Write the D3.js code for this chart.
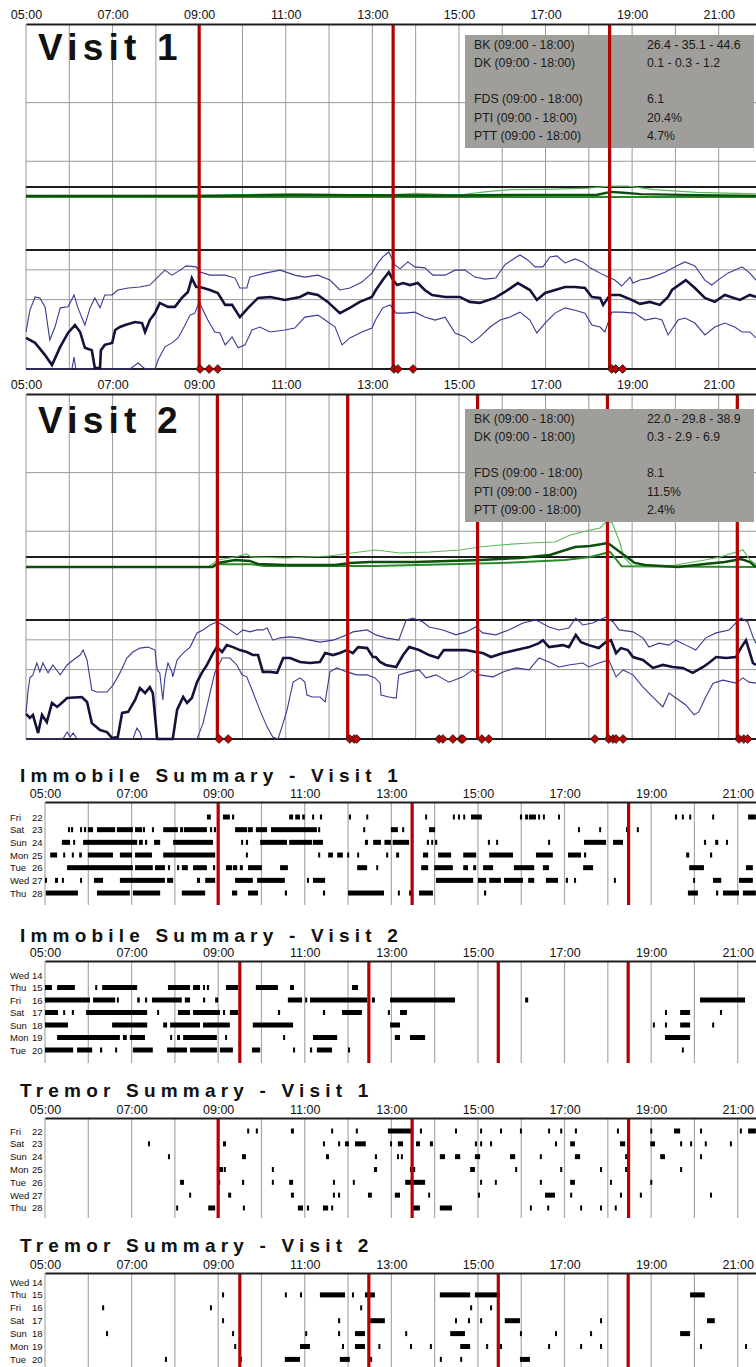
<!DOCTYPE html>
<html><head><meta charset="utf-8">
<script src="https://cdn.jsdelivr.net/npm/d3@7"></script>
<style>
html,body{margin:0;padding:0;background:#fff;}
svg{display:block;font-family:"Liberation Sans",Arial,Helvetica,sans-serif;}
</style></head><body>
<svg id="chart" width="756" height="1367"></svg>
<script>
// ---------- shared time axis ----------
const hourTicks = [5, 7, 9, 11, 13, 15, 17, 19, 21];
const hourGrid = d3.range(5, 22);

// ---------- summary statistics ----------
const statLabels = ["BK (09:00 - 18:00)", "DK (09:00 - 18:00)", "", "FDS (09:00 - 18:00)", "PTI (09:00 - 18:00)", "PTT (09:00 - 18:00)"];
const statsV1 = ["26.4 - 35.1 - 44.6", "0.1 - 0.3 - 1.2", "", "6.1", "20.4%", "4.7%"];
const statsV2 = ["22.0 - 29.8 - 38.9", "0.3 - 2.9 - 6.9", "", "8.1", "11.5%", "2.4%"];

// ---------- reference levels ----------
const dkLevels = [7, 25, 66];      // DK threshold (black) and guides (grey)
const bkLevels = [20, 26, 35];     // BK threshold (black) and guides (grey)

// ---------- dose times ----------
const dosesV1 = [9.0, 13.48, 18.48];
const dosesV2 = [9.42, 12.43, 15.43, 18.43, 21.43];
const dosesV2Summary = [9.5, 12.48, 15.47, 18.47];
const remindersV1 = [9.02, 9.23, 9.43, 13.5, 13.59, 13.94, 18.53, 18.62, 18.78];
const remindersV2 = [9.46, 9.67, 12.48, 12.58, 12.64, 14.54, 14.63, 14.86, 15.05, 15.09, 15.53, 15.69, 18.14, 18.46, 18.56, 18.63, 18.79, 21.47, 21.58, 21.67];

// ---------- Visit 1 bradykinesia (median, 25th, 75th) ----------
const bkV1Median = [[5.00,46.6],[5.21,48.1],[5.44,51.8],[5.60,54.8],[5.79,49.3],[5.97,45.1],[6.13,42.7],[6.25,44.8],[6.36,49.6],[6.52,50.3],[6.59,55.7],[6.71,55.7],[6.73,50.3],[6.82,48.7],[6.99,48.1],[7.06,44.2],[7.17,43.3],[7.29,42.7],[7.52,41.8],[7.68,42.1],[7.75,44.8],[7.86,41.2],[7.98,39.1],[8.09,36.0],[8.28,37.2],[8.44,37.2],[8.60,34.5],[8.74,32.7],[8.83,28.5],[8.93,31.2],[9.02,31.2],[9.25,32.1],[9.43,33.0],[9.60,36.6],[9.76,36.6],[9.94,40.3],[10.13,37.5],[10.36,34.5],[10.64,34.2],[10.98,35.1],[11.33,34.2],[11.51,33.0],[11.74,33.6],[11.97,35.7],[12.25,39.1],[12.48,37.5],[12.71,35.7],[12.99,34.2],[13.08,32.1],[13.24,29.1],[13.38,26.7],[13.48,29.1],[13.57,30.6],[13.71,30.0],[13.87,30.6],[14.05,30.0],[14.21,32.1],[14.38,33.6],[14.68,34.2],[15.02,34.2],[15.25,35.7],[15.48,36.0],[15.83,34.5],[16.06,32.7],[16.36,30.0],[16.64,32.1],[16.80,35.1],[16.99,33.0],[17.22,32.1],[17.45,31.2],[17.68,31.2],[17.91,31.5],[18.07,34.2],[18.26,34.5],[18.33,36.6],[18.49,33.6],[18.72,33.6],[18.99,35.1],[19.18,36.3],[19.41,35.7],[19.64,36.6],[19.83,34.2],[19.92,32.1],[20.24,29.1],[20.45,31.5],[20.68,34.5],[20.91,35.7],[21.14,33.6],[21.49,35.1],[21.72,33.6],[21.86,34.2]];
const bkV1Low = [[5.00,44.8],[5.09,38.2],[5.21,34.2],[5.32,34.5],[5.44,37.2],[5.55,47.2],[5.67,43.3],[5.79,37.5],[5.97,37.2],[6.11,33.6],[6.20,37.5],[6.36,42.7],[6.48,37.5],[6.59,34.5],[6.71,37.5],[6.82,33.6],[6.99,33.6],[7.12,32.1],[7.36,31.5],[7.63,31.2],[7.86,30.6],[8.09,27.6],[8.21,26.1],[8.37,27.6],[8.56,26.1],[8.70,24.8],[8.93,25.1],[9.02,26.7],[9.25,27.6],[9.60,27.6],[9.83,28.5],[9.94,31.5],[10.10,31.5],[10.17,28.2],[10.52,27.0],[10.87,26.1],[11.21,27.6],[11.44,28.2],[11.74,27.6],[12.02,29.1],[12.25,32.1],[12.48,31.5],[12.76,29.7],[12.99,27.0],[13.13,23.9],[13.24,22.1],[13.38,20.6],[13.52,24.5],[13.64,25.7],[13.82,23.6],[13.98,25.1],[14.21,25.4],[14.40,27.6],[14.68,27.6],[14.91,26.1],[15.14,26.1],[15.37,28.2],[15.60,28.8],[15.85,28.5],[16.06,24.5],[16.29,22.4],[16.41,21.5],[16.59,23.0],[16.76,25.1],[16.94,25.1],[17.10,22.1],[17.26,21.8],[17.45,23.9],[17.68,22.7],[17.86,23.6],[18.03,25.4],[18.26,27.0],[18.44,28.2],[18.60,29.1],[18.76,30.9],[18.95,28.2],[19.02,30.0],[19.18,29.1],[19.41,28.5],[19.76,26.7],[19.99,25.1],[20.22,23.6],[20.45,24.8],[20.68,29.1],[20.84,30.6],[20.98,29.1],[21.21,27.0],[21.54,25.1],[21.72,27.0],[21.86,29.1]];
const bkV1High = [[5.00,56.0],[6.06,56.0],[6.11,52.4],[6.15,56.0],[7.40,56.0],[7.59,54.2],[7.75,56.0],[7.98,56.0],[8.05,53.3],[8.21,49.3],[8.37,48.1],[8.51,46.6],[8.65,43.3],[8.79,39.7],[8.90,39.1],[9.00,35.7],[9.09,38.2],[9.20,41.2],[9.36,44.8],[9.48,45.1],[9.60,48.7],[9.76,46.3],[9.90,49.6],[10.06,48.7],[10.22,44.2],[10.40,43.3],[10.64,44.8],[10.98,44.2],[11.21,43.6],[11.44,40.3],[11.74,39.7],[11.91,41.2],[12.14,43.3],[12.30,48.7],[12.48,46.6],[12.76,44.8],[12.99,43.6],[13.08,41.0],[13.24,37.5],[13.41,36.6],[13.55,39.1],[13.75,39.1],[13.98,38.8],[14.21,40.3],[14.45,41.2],[14.68,40.3],[14.91,45.1],[15.14,46.3],[15.30,48.1],[15.48,46.3],[15.72,43.3],[15.95,41.2],[16.18,40.3],[16.41,38.8],[16.64,41.2],[16.80,45.1],[16.99,42.1],[17.22,39.1],[17.45,37.5],[17.68,38.2],[17.91,39.1],[18.07,42.7],[18.26,43.3],[18.37,44.8],[18.53,38.8],[18.76,38.8],[19.06,39.1],[19.30,41.2],[19.53,40.6],[19.69,41.2],[19.83,45.7],[20.06,41.2],[20.22,40.6],[20.45,42.1],[20.68,45.7],[20.91,43.3],[21.14,42.1],[21.37,43.3],[21.54,44.8],[21.72,44.8],[21.86,46.6]];

// ---------- Visit 1 dyskinesia ----------
const dkV1Median = [[5,0.8],[9,0.8],[10.5,1.2],[11.5,1.6],[12.5,1.2],[15,1.0],[16.5,1.5],[18.2,1.6],[18.5,3.6],[18.8,3.0],[19.2,2.0],[20.5,1.3],[21.86,0.8]];
const dkV1High = [[5,1.0],[9,1.2],[11,2.2],[12,1.4],[13.5,1.6],[14,2.6],[15,1.4],[15.6,3.6],[16.2,5.2],[17,5.4],[18,6.2],[18.5,7.6],[18.9,7.6],[19.5,5.2],[20.5,3.2],[21.86,2.2]];
const dkV1Low = [[5,0],[21.86,0]];

// ---------- Visit 2 bradykinesia ----------
const bkV2Median = [[5.00,48.4],[5.09,49.6],[5.16,48.7],[5.28,54.2],[5.37,48.7],[5.48,50.9],[5.60,45.1],[5.72,46.3],[5.85,44.8],[5.95,43.6],[6.29,43.3],[6.41,44.8],[6.52,51.2],[6.71,53.3],[6.87,53.9],[6.99,55.7],[7.12,55.4],[7.22,48.1],[7.36,47.8],[7.52,44.2],[7.63,40.6],[7.75,42.1],[7.86,40.3],[7.93,42.1],[8.03,56.0],[8.39,56.0],[8.49,47.2],[8.63,43.3],[8.72,45.1],[8.83,43.6],[8.95,38.8],[9.06,36.0],[9.18,33.6],[9.32,30.0],[9.41,28.2],[9.53,29.7],[9.64,27.6],[9.78,28.2],[9.94,29.1],[10.10,29.7],[10.24,30.6],[10.36,30.6],[10.47,35.7],[10.64,35.7],[10.80,36.0],[10.94,31.5],[11.10,31.5],[11.33,32.7],[11.56,33.0],[11.79,32.7],[11.91,30.0],[12.09,30.6],[12.25,30.0],[12.41,29.1],[12.55,30.0],[12.67,28.2],[12.88,28.5],[13.01,31.2],[13.08,31.2],[13.18,32.7],[13.31,33.6],[13.55,34.2],[13.71,30.6],[13.85,28.2],[14.08,29.1],[14.31,30.6],[14.52,31.5],[14.65,29.1],[14.93,29.1],[15.16,29.1],[15.39,29.7],[15.55,30.0],[15.74,31.2],[16.02,30.0],[16.32,29.1],[16.62,28.2],[16.85,27.0],[16.94,26.1],[17.08,28.2],[17.40,27.6],[17.54,28.2],[17.70,24.5],[17.82,26.7],[18.00,27.6],[18.23,28.5],[18.39,26.7],[18.51,26.1],[18.63,30.0],[18.74,28.5],[18.90,29.1],[19.02,31.2],[19.25,32.1],[19.48,34.5],[19.71,33.6],[19.94,34.2],[20.17,34.5],[20.40,36.0],[20.64,34.2],[20.77,33.0],[20.94,31.2],[21.17,31.5],[21.40,31.2],[21.51,28.5],[21.63,26.1],[21.70,29.1],[21.79,33.0],[21.86,33.6]];
const bkV2Low = [[5.00,48.1],[5.05,41.2],[5.09,37.5],[5.16,36.6],[5.25,33.0],[5.32,35.7],[5.39,33.0],[5.51,36.0],[5.62,33.6],[5.79,36.6],[5.95,33.6],[6.09,32.1],[6.25,30.6],[6.32,29.1],[6.41,32.1],[6.52,41.2],[6.64,41.8],[6.87,41.8],[7.01,39.7],[7.17,36.0],[7.33,31.5],[7.47,29.7],[7.63,28.5],[7.82,28.2],[7.98,29.1],[8.03,35.1],[8.09,36.0],[8.16,44.2],[8.21,37.2],[8.28,33.0],[8.37,35.7],[8.39,37.2],[8.49,32.1],[8.63,30.0],[8.79,28.2],[8.95,23.9],[9.09,23.0],[9.25,21.5],[9.41,20.6],[9.55,21.5],[9.71,23.0],[9.87,24.5],[10.01,23.0],[10.17,23.6],[10.33,23.0],[10.47,23.0],[10.57,22.4],[10.70,26.1],[10.87,25.4],[11.10,25.1],[11.33,25.4],[11.56,26.1],[11.79,26.7],[12.09,26.1],[12.41,24.5],[12.55,23.6],[12.88,23.0],[13.08,24.5],[13.31,25.4],[13.61,26.1],[13.78,20.0],[13.94,19.4],[14.17,20.6],[14.31,22.1],[14.63,23.0],[14.93,24.5],[15.16,23.6],[15.39,22.1],[15.55,23.9],[15.85,24.5],[16.15,23.0],[16.48,20.9],[16.78,20.0],[17.08,22.1],[17.31,23.0],[17.54,22.4],[17.70,19.4],[17.86,21.5],[18.09,20.9],[18.39,19.1],[18.56,20.6],[18.70,23.0],[19.02,23.6],[19.25,25.4],[19.39,28.2],[19.62,27.0],[19.85,27.6],[20.01,26.1],[20.24,27.6],[20.47,29.1],[20.70,25.4],[20.94,23.9],[21.24,23.0],[21.40,20.9],[21.51,19.4],[21.67,20.6],[21.79,25.1],[21.86,27.0]];
const bkV2High = [[5.00,56.0],[5.85,56.0],[5.95,53.9],[6.02,55.4],[6.09,54.2],[6.18,56.0],[7.47,56.0],[7.56,52.7],[7.63,53.9],[7.68,56.0],[8.95,56.0],[9.09,51.2],[9.25,42.1],[9.36,36.0],[9.43,34.2],[9.53,31.5],[9.71,31.5],[9.87,33.6],[9.99,36.6],[10.10,37.2],[10.24,41.8],[10.40,47.2],[10.57,52.4],[10.70,55.4],[10.82,56.0],[10.91,52.4],[11.03,47.2],[11.17,38.8],[11.33,37.5],[11.44,38.8],[11.49,42.7],[11.61,43.3],[11.79,43.3],[11.91,44.8],[12.02,35.7],[12.18,34.5],[12.41,35.7],[12.64,36.6],[12.88,36.6],[13.06,37.5],[13.18,39.1],[13.20,42.7],[13.38,43.3],[13.55,43.6],[13.61,36.6],[13.85,35.7],[14.08,35.1],[14.24,37.5],[14.47,36.6],[14.77,38.8],[15.09,37.2],[15.32,35.1],[15.46,36.6],[15.79,37.2],[16.02,35.7],[16.32,34.5],[16.62,35.1],[16.85,31.5],[17.08,32.7],[17.31,34.2],[17.54,33.6],[17.86,33.0],[18.00,34.2],[18.23,33.0],[18.46,32.1],[18.63,37.2],[18.79,35.1],[19.02,36.6],[19.25,40.3],[19.48,43.3],[19.71,46.3],[19.85,42.1],[20.01,43.6],[20.24,45.7],[20.43,48.7],[20.54,47.8],[20.70,43.3],[20.87,39.1],[21.10,38.2],[21.40,39.1],[21.56,37.5],[21.70,38.8],[21.86,39.1]];

// ---------- Visit 2 dyskinesia ----------
const dkV2Median = [[5,0],[9.3,0],[9.43,2.8],[9.83,4.9],[10.17,4.2],[10.36,2.1],[11.0,1.4],[12.14,1.4],[12.48,2.8],[12.94,3.5],[14.0,3.5],[15.48,4.9],[16.41,6.3],[17.10,8.4],[17.68,14.0],[18.03,14.7],[18.44,16.8],[18.72,10.5],[19.06,2.8],[19.3,1.4],[20.06,0],[20.68,2.1],[21.14,3.5],[21.52,5.6],[21.72,3.5],[21.86,0]];
const dkV2High = [[5,0],[9.2,0],[9.43,4.9],[9.83,7.0],[10.1,9.1],[10.2,7.0],[11.0,6.3],[12.0,7.7],[12.7,10.5],[13.08,11.9],[13.64,9.8],[14.33,10.5],[15.02,11.9],[15.48,14.0],[15.95,15.4],[16.64,16.8],[17.22,17.5],[17.57,22.4],[18.03,25.9],[18.26,27.3],[18.37,30.8],[18.53,31.5],[18.72,16.8],[18.8,7.0],[19.0,1.0],[19.5,0.5],[20.0,1.4],[20.68,4.9],[21.03,7.0],[21.56,11.9],[21.72,4.9],[21.86,2.0]];
const dkV2Low = [[5,0],[9.3,0],[9.5,2.0],[10.2,2.0],[10.5,0.7],[13.08,0.7],[15.95,2.8],[17.45,4.9],[18.03,7.0],[18.49,10.5],[18.76,0.5],[21.86,0]];

// ---------- daily summaries: [start, end] hours per day row ----------
const weekdaysV1 = ["Fri", "Sat", "Sun", "Mon", "Tue", "Wed", "Thu"];
const datesV1 = [22, 23, 24, 25, 26, 27, 28];
const weekdaysV2 = ["Wed", "Thu", "Fri", "Sat", "Sun", "Mon", "Tue"];
const datesV2 = [14, 15, 16, 17, 18, 19, 20];

const immobileV1 = [
  [[8.74,8.83],[9.11,9.27],[9.32,9.37],[10.64,10.73],[10.78,10.89],[10.94,11.0],[11.17,11.19],[11.35,11.4],[12.02,12.05],[12.42,12.44],[13.78,13.82],[14.42,14.45],[14.54,14.56],[14.66,14.7],[14.84,15.09],[15.97,16.02],[16.09,16.16],[16.18,16.34],[16.39,16.41],[16.5,16.52],[16.85,16.87],[19.55,19.6],[19.71,19.74],[19.88,19.9],[20.41,20.45],[21.24,21.42]],
  [[5.53,5.55],[5.6,5.65],[5.81,5.85],[5.9,5.95],[5.99,6.11],[6.2,6.62],[6.66,7.03],[7.08,7.24],[7.26,7.31],[7.47,7.49],[7.73,8.07],[8.12,8.19],[8.21,8.74],[8.81,8.86],[8.9,8.95],[9.39,9.67],[9.69,9.8],[9.87,10.13],[10.22,11.28],[11.31,11.33],[12.35,12.39],[12.99,13.15],[13.25,13.29],[13.87,14.01],[17.31,17.34],[17.8,17.84],[18.42,18.47],[18.67,18.7]],
  [[5.39,5.58],[5.65,5.69],[5.88,7.13],[7.17,7.26],[7.31,7.36],[7.52,7.66],[7.96,8.88],[9.53,9.57],[9.64,9.69],[9.97,10.59],[10.64,11.17],[11.19,11.42],[12.39,12.46],[12.58,12.76],[12.84,12.99],[13.03,13.41],[13.82,13.87],[13.92,13.96],[14.01,14.06],[15.23,15.26],[15.42,15.46],[16.62,16.65],[17.45,17.96],[18.12,18.35],[20.22,20.27],[20.48,20.55],[20.73,20.77]],
  [[5.12,5.28],[5.42,5.46],[5.62,5.65],[5.79,5.85],[5.99,6.57],[6.73,7.01],[7.08,7.47],[7.73,8.93],[9.64,9.67],[11.31,11.35],[11.54,11.65],[11.75,11.88],[11.98,12.0],[12.21,12.23],[12.88,12.92],[13.11,13.18],[13.73,13.85],[14.08,14.38],[14.66,14.96],[15.26,15.81],[16.34,16.73],[17.08,17.38],[17.45,17.5],[19.81,19.88],[20.36,20.41]],
  [[5.51,7.03],[7.08,7.49],[7.54,7.77],[7.84,7.89],[8.05,8.1],[8.16,8.3],[8.42,8.74],[8.88,8.93],[9.18,9.32],[9.34,9.44],[9.5,9.57],[9.69,10.01],[10.43,10.61],[12.21,12.44],[12.65,12.69],[13.69,13.85],[13.99,14.42],[14.66,14.77],[14.89,14.96],[15.12,15.35],[15.83,16.3],[16.5,16.64],[17.43,17.66],[19.88,20.22],[21.19,21.35]],
  [[5.0,5.03],[5.23,5.3],[5.39,5.42],[5.81,5.85],[6.13,6.34],[6.73,7.77],[7.82,7.96],[8.51,8.58],[8.7,8.93],[9.39,9.8],[9.9,10.54],[11.05,11.07],[11.19,11.47],[14.03,14.89],[15.0,15.19],[15.26,15.53],[15.6,16.04],[16.16,16.3],[16.57,16.85],[17.03,17.08],[17.22,17.24],[18.14,18.17],[19.97,19.99],[20.43,20.62],[21.03,21.35]],
  [[5.02,5.76],[6.2,6.96],[7.03,7.66],[8.16,8.7],[9.32,9.44],[9.69,9.92],[10.54,10.59],[11.42,11.47],[12.0,12.83],[13.15,13.18],[13.41,13.45],[13.64,13.96],[15.14,15.19],[19.85,20.08],[20.5,20.55],[20.66,21.03],[21.12,21.42]]
];
const immobileV2 = [
  [],
  [[5.0,5.16],[5.28,5.69],[6.16,6.2],[6.32,7.13],[7.84,8.35],[8.42,8.58],[8.65,8.67],[8.74,8.79],[9.18,9.46],[9.87,10.38],[10.66,10.75],[12.09,12.23]],
  [[5.0,6.04],[6.11,6.62],[6.66,6.69],[7.13,7.19],[7.31,7.36],[7.47,8.16],[8.23,8.35],[8.65,8.7],[8.93,9.0],[10.61,10.94],[11.01,11.05],[11.12,12.44],[12.55,12.62],[12.97,14.47],[16.09,16.16],[20.13,21.17]],
  [[5.0,5.3],[5.42,5.46],[5.62,5.65],[5.95,7.36],[7.59,7.61],[8.07,8.35],[8.42,9.04],[9.11,9.16],[9.27,9.46],[10.38,10.43],[11.42,11.47],[11.86,12.32],[12.92,12.95],[13.2,13.36],[19.32,19.35],[19.67,19.9],[20.59,20.62]],
  [[5.0,5.53],[6.55,7.36],[7.73,7.82],[7.89,8.58],[8.65,9.27],[9.8,10.73],[12.97,13.2],[19.04,19.07],[19.32,19.35],[19.67,19.9],[20.41,20.44]],
  [[5.28,6.73],[6.8,6.89],[6.96,7.31],[7.89,7.93],[8.05,8.12],[8.19,8.97],[9.16,9.2],[10.5,10.54],[11.19,11.75],[13.08,13.2],[13.43,13.78],[19.32,19.9]],
  [[5.0,5.65],[5.74,6.09],[6.27,6.32],[6.62,6.66],[7.03,7.49],[7.82,8.28],[8.35,8.97],[9.04,9.34],[9.78,9.97],[10.73,10.75],[11.12,11.17],[11.28,11.63],[12.0,12.02],[19.71,19.74]]
];
const tremorV1 = [
  [[9.67,9.69],[9.87,9.9],[10.68,10.75],[11.61,11.65],[12.18,12.21],[12.92,13.48],[13.66,13.69],[14.47,14.5],[15.05,15.08],[15.51,15.54],[15.97,16.0],[16.62,16.65],[16.9,16.93],[17.24,17.27],[18.21,18.24],[18.98,19.01],[19.53,19.67],[20.13,20.16],[21.05,21.08],[21.24,21.42]],
  [[7.38,7.4],[9.11,9.18],[11.42,11.44],[11.77,11.79],[11.93,12.02],[12.16,12.41],[12.97,13.0],[13.15,13.27],[13.57,13.66],[13.89,13.96],[14.93,14.96],[15.05,15.08],[15.28,15.31],[16.78,16.81],[17.13,17.24],[18.28,18.4],[18.98,19.09],[19.67,19.7],[19.9,19.93],[20.24,20.27],[20.82,20.85]],
  [[7.84,7.86],[9.55,9.64],[11.49,11.56],[12.62,12.67],[13.13,13.16],[13.22,13.25],[14.12,14.24],[14.47,14.59],[14.93,15.05],[15.74,15.86],[16.43,16.46],[17.24,17.36],[18.4,18.43],[19.21,19.32],[20.13,20.16]],
  [[8.97,9.11],[9.13,9.16],[10.24,10.27],[12.6,12.67],[13.43,13.55],[14.82,14.93],[15.86,15.89],[16.9,16.93],[17.82,17.85],[18.4,18.43],[19.67,19.7]],
  [[8.12,8.21],[9.0,9.04],[9.55,9.6],[10.24,10.27],[10.64,10.73],[11.65,11.68],[12.11,12.14],[13.32,13.78],[15.05,15.08],[15.39,15.42],[16.43,16.46],[17.13,17.24],[18.05,18.08],[18.98,19.01]],
  [[8.33,8.37],[9.23,9.3],[10.68,10.75],[11.65,11.68],[11.77,11.79],[12.46,12.55],[13.08,13.2],[13.85,13.88],[15.0,15.03],[16.55,16.78],[17.13,17.16],[18.28,18.31],[18.74,18.77],[20.36,20.39]],
  [[8.03,8.05],[8.77,8.93],[9.57,9.6],[10.84,10.96],[11.05,11.1],[11.42,11.54],[11.61,11.63],[13.48,13.66],[14.12,14.4],[16.2,16.23],[16.6,16.63],[17.36,17.39],[17.82,17.85],[18.16,18.19]]
];
const tremorV2 = [
  [],
  [[9.09,9.12],[10.54,10.57],[10.89,10.92],[11.35,11.93],[12.09,12.12],[12.39,12.62],[14.12,14.82],[14.93,15.51],[19.9,20.24]],
  [[6.32,6.35],[8.81,8.84],[12.28,12.31],[14.82,14.85],[15.28,15.31]],
  [[9.09,9.12],[11.77,11.8],[12.51,12.85],[14.47,14.5],[14.77,14.8],[15.05,15.08],[15.62,15.97],[17.82,17.85],[20.29,20.47]],
  [[6.41,6.44],[9.32,9.35],[11.01,11.04],[11.77,11.8],[12.16,12.39],[13.32,13.35],[14.36,14.7],[15.97,16.0],[16.78,16.81],[17.59,17.62],[19.67,19.9]],
  [[9.37,9.4],[10.89,11.12],[11.86,11.89],[12.16,12.39],[12.7,12.73],[13.43,13.46],[13.89,13.92],[14.59,14.82],[15.19,15.22],[15.51,15.54],[16.62,16.65],[17.36,17.39],[17.82,17.85],[20.13,20.16],[21.17,21.2]],
  [[7.77,7.8],[9.5,9.53],[10.54,10.89],[11.81,12.04],[12.51,12.54],[14.12,14.15],[14.59,14.62],[15.97,16.2]]
];

// ---------- drawing ----------
const svg = d3.select("#chart");
svg.append("rect").attr("width", 756).attr("height", 1367).attr("fill", "#fff");

const fmt = h => d3.format("02d")(h) + ":00";
const RED = "#b40000";

// Time scale for the two trace panels
const xT = d3.scaleLinear().domain([5, 22]).range([26, 762]);
// Panel-internal scales (DK plotted upward, BK plotted downward)
const yDK = d3.scaleLinear().domain([0, 121]).range([197, 24]);
const yBK = d3.scaleLinear().domain([20, 56]).range([250, 369]);

function tracePanel(cfg) {
  const g = svg.append("g").attr("transform", `translate(0,${cfg.offset})`);

  // hourly grid
  g.append("g").selectAll("line").data(hourGrid).join("line")
    .attr("x1", d => xT(d)).attr("x2", d => xT(d))
    .attr("y1", 24).attr("y2", 369)
    .attr("stroke", "#9a9a9a").attr("stroke-width", 1);

  // grey guide levels
  const guides = [[yDK, dkLevels.slice(1)], [yBK, bkLevels.slice(1)]];
  guides.forEach(([sc, lv]) => {
    g.append("g").selectAll("line").data(lv).join("line")
      .attr("x1", xT(5)).attr("x2", 756)
      .attr("y1", d => sc(d)).attr("y2", d => sc(d))
      .attr("stroke", "#9a9a9a").attr("stroke-width", 1);
  });
  // black threshold levels and baseline
  [yDK(dkLevels[0]), yBK(bkLevels[0]), yBK(56)].forEach(y => {
    g.append("line").attr("x1", xT(5)).attr("x2", 756).attr("y1", y).attr("y2", y)
      .attr("stroke", "#1e1e1e").attr("stroke-width", 2);
  });

  // title
  g.append("text").attr("x", 38).attr("y", cfg.titleY)
    .attr("font-size", 37).attr("font-weight", "bold").attr("letter-spacing", 5.2)
    .attr("fill", "#111").text(cfg.title);

  // dyskinesia traces
  const lineDK = d3.line().x(d => xT(d[0])).y(d => yDK(d[1]));
  g.append("path").datum(cfg.dkLow).attr("d", lineDK).attr("fill", "none").attr("stroke", "#2a8a2a").attr("stroke-width", 2);
  g.append("path").datum(cfg.dkHigh).attr("d", lineDK).attr("fill", "none").attr("stroke", "#5cba5c").attr("stroke-width", 1.2);
  g.append("path").datum(cfg.dkMedian).attr("d", lineDK).attr("fill", "none").attr("stroke", "#0b4f0b").attr("stroke-width", 2.4);

  // bradykinesia traces
  const lineBK = d3.line().x(d => xT(d[0])).y(d => yBK(d[1]));
  g.append("path").datum(cfg.bkLow).attr("d", lineBK).attr("fill", "none").attr("stroke", "#3a3a94").attr("stroke-width", 1.1);
  g.append("path").datum(cfg.bkHigh).attr("d", lineBK).attr("fill", "none").attr("stroke", "#3a3a94").attr("stroke-width", 1.1);
  g.append("path").datum(cfg.bkMedian).attr("d", lineBK).attr("fill", "none").attr("stroke", "#12123a").attr("stroke-width", 2.6);

  // dose times, statistics box (layer order differs per visit)
  const drawDoses = () => g.append("g").selectAll("line").data(cfg.doses).join("line")
    .attr("x1", d => xT(d)).attr("x2", d => xT(d)).attr("y1", 24).attr("y2", 369)
    .attr("stroke", RED).attr("stroke-width", 3.2);
  const drawBox = () => {
    const b = g.append("g");
    b.append("rect").attr("x", 465).attr("y", cfg.boxY).attr("width", 289).attr("height", 113)
      .attr("fill", "#9f9e9a");
    const rowYs = [14, 32, 50, 68, 87, 105];
    statLabels.forEach((lab, i) => {
      if (!lab) return;
      b.append("text").attr("x", 474).attr("y", cfg.boxY + rowYs[i]).attr("font-size", 12.3).attr("fill", "#1a1a1a").text(lab);
      b.append("text").attr("x", 647).attr("y", cfg.boxY + rowYs[i]).attr("font-size", 12.3).attr("fill", "#1a1a1a").text(cfg.stats[i]);
    });
  };
  if (cfg.boxOnTop) { drawDoses(); drawBox(); } else { drawBox(); drawDoses(); }

  // reminder markers on the baseline
  g.append("g").selectAll("path").data(cfg.reminders).join("path")
    .attr("d", d3.symbol(d3.symbolSquare, 38))
    .attr("transform", d => `translate(${xT(d)},369) rotate(45)`)
    .attr("fill", "#c00000").attr("stroke", "#1a1a1a").attr("stroke-width", 0.9);

  // top time axis
  const ax = g.append("g").attr("transform", "translate(0,24)")
    .call(d3.axisTop(xT).tickValues(hourTicks).tickFormat(fmt).tickSize(0).tickPadding(5));
  ax.select(".domain").attr("stroke", "#1e1e1e").attr("stroke-width", 2);
  ax.selectAll("text").attr("font-size", 12.5).attr("fill", "#111")
    .attr("font-family", '"Liberation Sans",Arial,sans-serif');
}

tracePanel({ offset: 0, title: "Visit 1", titleY: 60, boxY: 35, stats: statsV1, boxOnTop: false,
  dkLow: dkV1Low, dkMedian: dkV1Median, dkHigh: dkV1High,
  bkLow: bkV1Low, bkMedian: bkV1Median, bkHigh: bkV1High,
  doses: dosesV1, reminders: remindersV1 });
tracePanel({ offset: 370, title: "Visit 2", titleY: 63, boxY: 39, stats: statsV2, boxOnTop: true,
  dkLow: dkV2Low, dkMedian: dkV2Median, dkHigh: dkV2High,
  bkLow: bkV2Low, bkMedian: bkV2Median, bkHigh: bkV2High,
  doses: dosesV2, reminders: remindersV2 });

// Time scale for the daily summaries
const xS = d3.scaleLinear().domain([5, 22]).range([45, 781]);

function summaryPanel(cfg) {
  const g = svg.append("g");
  g.append("text").attr("x", 20).attr("y", cfg.titleY)
    .attr("font-size", 19).attr("font-weight", "bold").attr("letter-spacing", 5.2)
    .attr("fill", "#111").text(cfg.title);

  g.append("g").selectAll("line").data(hourGrid).join("line")
    .attr("x1", d => xS(d)).attr("x2", d => xS(d))
    .attr("y1", cfg.axisY).attr("y2", cfg.bottom)
    .attr("stroke", "#a8a8a8").attr("stroke-width", 1.2);

  cfg.rows.forEach((segs, i) => {
    const yc = cfg.row0 + i * cfg.rowStep;
    g.append("text").attr("x", 10).attr("y", yc + 3.5).attr("font-size", 9.5).attr("fill", "#111").text(cfg.weekdays[i]);
    g.append("text").attr("x", 32).attr("y", yc + 3.5).attr("font-size", 9.5).attr("fill", "#111").text(cfg.dates[i]);
    g.append("g").selectAll("rect").data(segs).join("rect")
      .attr("x", d => xS(d[0]))
      .attr("width", d => Math.max(2, xS(d[1]) - xS(d[0])))
      .attr("y", yc - 2.5).attr("height", 5)
      .attr("fill", "#000");
  });

  g.append("g").selectAll("line").data(cfg.doses).join("line")
    .attr("x1", d => xS(d)).attr("x2", d => xS(d))
    .attr("y1", cfg.axisY).attr("y2", cfg.bottom)
    .attr("stroke", RED).attr("stroke-width", 3.2);

  const ax = g.append("g").attr("transform", `translate(0,${cfg.axisY})`)
    .call(d3.axisTop(xS).tickValues(hourTicks).tickFormat(fmt).tickSize(0).tickPadding(4));
  ax.select(".domain").attr("stroke", "#1e1e1e").attr("stroke-width", 2);
  ax.selectAll("text").attr("font-size", 12.5).attr("fill", "#111")
    .attr("font-family", '"Liberation Sans",Arial,sans-serif');
}

summaryPanel({ title: "Immobile Summary - Visit 1", titleY: 782, axisY: 802, row0: 817, rowStep: 12.67, bottom: 905,
  rows: immobileV1, weekdays: weekdaysV1, dates: datesV1, doses: dosesV1 });
summaryPanel({ title: "Immobile Summary - Visit 2", titleY: 942, axisY: 961, row0: 975, rowStep: 12.5, bottom: 1063,
  rows: immobileV2, weekdays: weekdaysV2, dates: datesV2, doses: dosesV2Summary });
summaryPanel({ title: "Tremor Summary - Visit 1", titleY: 1097, axisY: 1118, row0: 1131, rowStep: 12.83, bottom: 1218,
  rows: tremorV1, weekdays: weekdaysV1, dates: datesV1, doses: dosesV1 });
summaryPanel({ title: "Tremor Summary - Visit 2", titleY: 1252, axisY: 1273, row0: 1282, rowStep: 12.9, bottom: 1367,
  rows: tremorV2, weekdays: weekdaysV2, dates: datesV2, doses: dosesV2Summary });
</script>
</body></html>
